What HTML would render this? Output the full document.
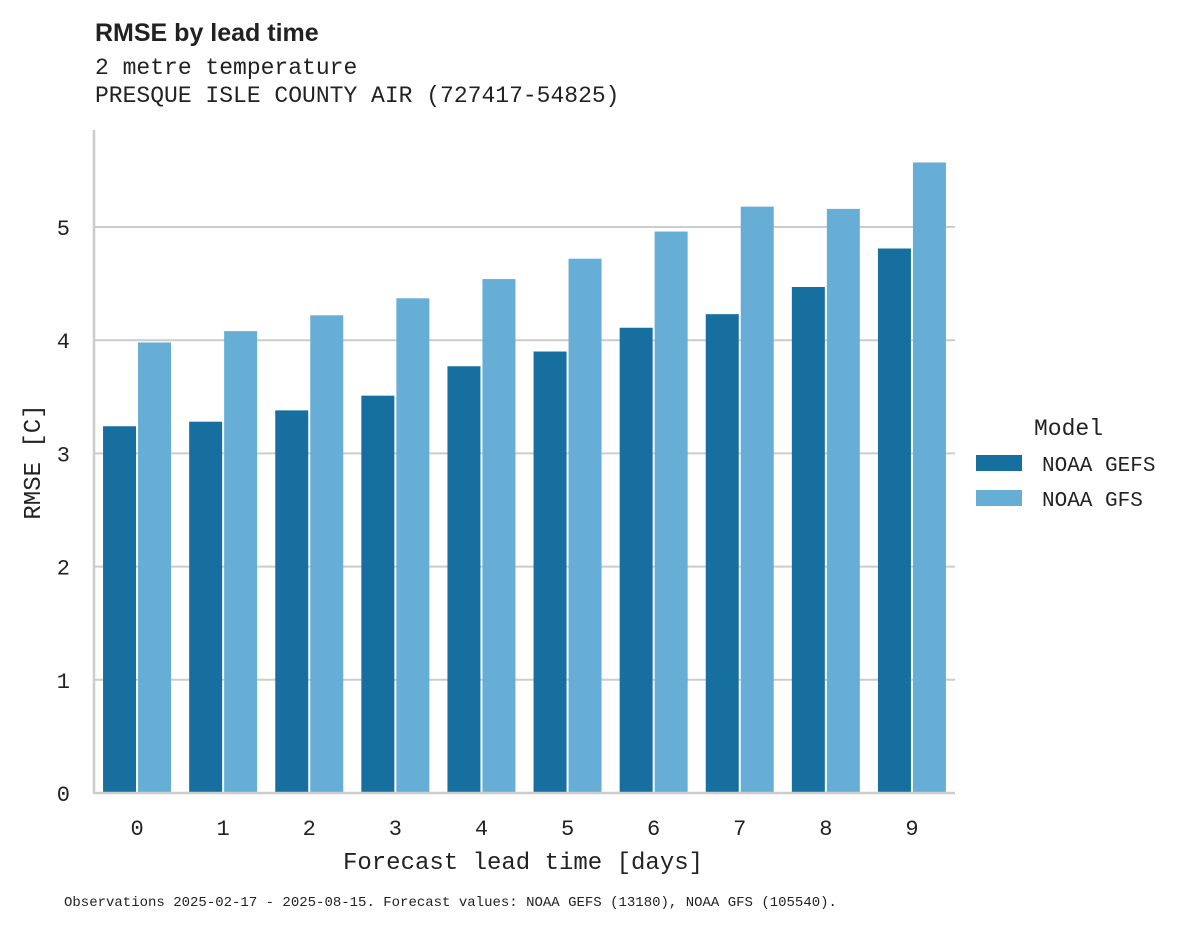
<!DOCTYPE html>
<html><head><meta charset="utf-8"><style>
body{margin:0;background:#fff;}
svg{display:block;font-family:"Liberation Mono",monospace;}
</style></head><body>
<svg id="chart" width="1195" height="928" viewBox="0 0 1195 928">
<text x="95" y="41" font-family="Liberation Sans, sans-serif" font-weight="bold" font-size="25" fill="#222">RMSE by lead time</text>
<text x="95" y="74" font-size="23" fill="#222">2 metre temperature</text>
<text x="95" y="102" font-size="23" fill="#222">PRESQUE ISLE COUNTY AIR (727417-54825)</text>
<g id="grid"></g>
<g id="bars"></g>
<g id="axes"></g>
<text x="523" y="869" text-anchor="middle" font-size="24" fill="#222">Forecast lead time [days]</text>
<text transform="translate(40,462) rotate(-90)" text-anchor="middle" font-size="24" fill="#222">RMSE [C]</text>
<g>
<text x="1034" y="435" font-size="23" fill="#222">Model</text>
<rect x="976" y="455" width="46" height="16" fill="#176f9f"/>
<text x="1042" y="471" font-size="21" fill="#222">NOAA GEFS</text>
<rect x="976" y="490" width="46" height="16" fill="#67aed6"/>
<text x="1042" y="506" font-size="21" fill="#222">NOAA GFS</text>
</g>
<text x="64" y="906" font-size="14" fill="#222">Observations 2025-02-17 - 2025-08-15. Forecast values: NOAA GEFS (13180), NOAA GFS (105540).</text>
</svg>
<script>
const categories=[0,1,2,3,4,5,6,7,8,9];
const gefsValues=[3.24,3.28,3.38,3.51,3.77,3.90,4.11,4.23,4.47,4.81];
const gfsValues=[3.98,4.08,4.22,4.37,4.54,4.72,4.96,5.18,5.16,5.57];
const yTicks=[0,1,2,3,4,5];
const NS="http://www.w3.org/2000/svg";
const x0=94,x1=955,y0=793,yTop=130,pxPerUnit=113.2;
const step=(x1-x0)/categories.length;
function xCenter(i){return x0+step*(i+0.5);}
function yScale(v){return y0-v*pxPerUnit;}
function mk(tag,attrs,parent){const e=document.createElementNS(NS,tag);for(const k in attrs)e.setAttribute(k,attrs[k]);parent.appendChild(e);return e;}
const grid=document.getElementById('grid'),bars=document.getElementById('bars'),axes=document.getElementById('axes');
yTicks.forEach(t=>{
 const y=yScale(t);
 if(t>0){const l=mk('line',{x1:x0,x2:x1,y1:y,y2:y,stroke:'#cccccc','stroke-width':2},grid);
 
 }
 const tx=mk('text',{x:70,y:y+8,'text-anchor':'end','font-size':22,fill:'#222'},axes);tx.textContent=t;
 
 
});
const bw=33;
categories.forEach((c,i)=>{
 const cx=xCenter(i);
 const b1=mk('rect',{x:cx-bw-1,y:yScale(gefsValues[i]),width:bw,height:y0-yScale(gefsValues[i]),fill:'#176f9f'},bars);
 
 
 const b2=mk('rect',{x:cx+1,y:yScale(gfsValues[i]),width:bw,height:y0-yScale(gfsValues[i]),fill:'#67aed6'},bars);
 
 
 const tx=mk('text',{x:cx,y:835,'text-anchor':'middle','font-size':22,fill:'#222'},axes);tx.textContent=c;
 
 
});
const ya=mk('line',{x1:x0,x2:x0,y1:yTop,y2:y0+1,stroke:'#cccccc','stroke-width':2.5},axes);


const xa=mk('line',{x1:x0,x2:x1,y1:y0,y2:y0,stroke:'#cccccc','stroke-width':2.5},axes);


</script>
</body></html>
